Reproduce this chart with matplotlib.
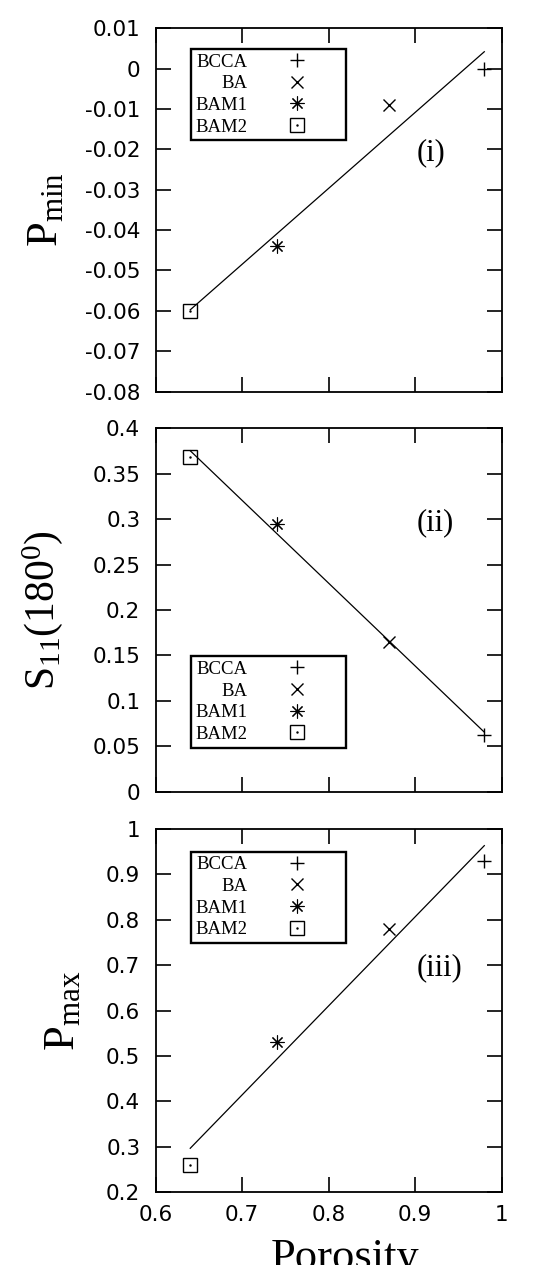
import numpy as np
import matplotlib
matplotlib.use('Agg')
import matplotlib.pyplot as plt
from matplotlib.legend_handler import HandlerTuple

# ---------------- data ----------------
samples = ['BCCA', 'BA', 'BAM1', 'BAM2']
porosity = [0.98, 0.87, 0.74, 0.64]
p_min = [0.0, -0.009, -0.044, -0.060]
s11_180 = [0.063, 0.165, 0.295, 0.368]
p_max = [0.93, 0.78, 0.53, 0.26]

panel_tags = ['(i)', '(ii)', '(iii)']
ylabels = [r'$\mathrm{P_{min}}$', r'$\mathrm{S_{11}(180^{0})}$', r'$\mathrm{P_{max}}$']
xlabel = 'Porosity'

xticks = [0.6, 0.7, 0.8, 0.9, 1.0]
xticklabels = ['0.6', '0.7', '0.8', '0.9', '1']
yticks_i = [-0.08, -0.07, -0.06, -0.05, -0.04, -0.03, -0.02, -0.01, 0.0, 0.01]
yticklabels_i = ['-0.08', '-0.07', '-0.06', '-0.05', '-0.04', '-0.03', '-0.02', '-0.01', '0', '0.01']
yticks_ii = [0.0, 0.05, 0.1, 0.15, 0.2, 0.25, 0.3, 0.35, 0.4]
yticklabels_ii = ['0', '0.05', '0.1', '0.15', '0.2', '0.25', '0.3', '0.35', '0.4']
yticks_iii = [0.2, 0.3, 0.4, 0.5, 0.6, 0.7, 0.8, 0.9, 1.0]
yticklabels_iii = ['0.2', '0.3', '0.4', '0.5', '0.6', '0.7', '0.8', '0.9', '1']

# ---------------- style ----------------
plt.rcParams['mathtext.fontset'] = 'custom'
plt.rcParams['mathtext.rm'] = 'Liberation Serif'
plt.rcParams['mathtext.it'] = 'Liberation Serif:italic'
plt.rcParams['axes.unicode_minus'] = False
plt.rcParams['font.family'] = ['DejaVu Sans']

markers = ['+', 'x', (8, 2, 0), 's']
msizes = [10, 9, 10, 10]
mews = [1.0, 1.0, 0.8, 1.0]
serif = 'Liberation Serif'

fig = plt.figure(figsize=(5.5, 12.65), dpi=100)
left, width, height = 0.283, 0.629, 0.2873
bottoms = [0.6904, 0.3741, 0.0575]

series = [p_min, s11_180, p_max]
yticks_all = [yticks_i, yticks_ii, yticks_iii]
ytl_all = [yticklabels_i, yticklabels_ii, yticklabels_iii]
tag_pos = [(0.754, 0.657), (0.754, 0.739), (0.754, 0.617)]
leg_anchor = [(0.101, 0.943), (0.101, 0.373), (0.101, 0.9375)]
ylab_x = [-0.26, -0.262, -0.21]
ylab_size = [32, 30, 32]

for k in range(3):
    ax = fig.add_axes([left, bottoms[k], width, height])
    y = series[k]
    # least-squares straight line through the four points
    coef = np.polyfit(porosity, y, 1)
    xs = np.array([min(porosity), max(porosity)])
    ax.plot(xs, np.polyval(coef, xs), color='black', lw=0.9, zorder=2)
    handles = []
    for i, name in enumerate(samples):
        h = ax.plot([porosity[i]], [y[i]], linestyle='none', marker=markers[i],
                    markersize=msizes[i], markeredgecolor='black',
                    markerfacecolor='none', markeredgewidth=mews[i], zorder=3)[0]
        if markers[i] == 's':
            d = ax.plot([porosity[i]], [y[i]], linestyle='none', marker='.',
                        markersize=1.5, color='black', zorder=3)[0]
            handles.append((h, d))
        else:
            handles.append(h)
    ax.set_xlim(xticks[0], xticks[-1])
    ax.set_ylim(yticks_all[k][0], yticks_all[k][-1])
    ax.set_xticks(xticks)
    ax.set_yticks(yticks_all[k])
    ax.set_yticklabels(ytl_all[k])
    if k == 2:
        ax.set_xticklabels(xticklabels)
    else:
        ax.set_xticklabels([])
    ax.tick_params(direction='in', length=11, width=1.2, top=True, right=True,
                   labelsize=15.5, pad=9)
    ax.tick_params(axis='y', pad=11)
    for s in ax.spines.values():
        s.set_linewidth(1.3)

    ax.text(tag_pos[k][0], tag_pos[k][1], panel_tags[k], transform=ax.transAxes,
            fontsize=22, family=serif, ha='left', va='center')

    leg = ax.legend(handles, samples, loc='upper left', bbox_to_anchor=leg_anchor[k],
                    borderaxespad=0, markerfirst=False, frameon=True, fancybox=False,
                    edgecolor='black', framealpha=1, prop={'family': serif, 'size': 13.5},
                    handlelength=4.73, handletextpad=0.28, borderpad=0.25, labelspacing=0.24,
                    handler_map={tuple: HandlerTuple(ndivide=1, pad=0)})
    leg.get_frame().set_linewidth(1.7)

    ax.set_ylabel(ylabels[k], fontsize=ylab_size[k])
    ax.yaxis.set_label_coords(ylab_x[k], 0.5)
    if k == 2:
        ax.set_xlabel(xlabel, fontsize=32, family=serif)
        ax.xaxis.set_label_coords(0.547, -0.127)

fig.savefig('out.png', dpi=100)
